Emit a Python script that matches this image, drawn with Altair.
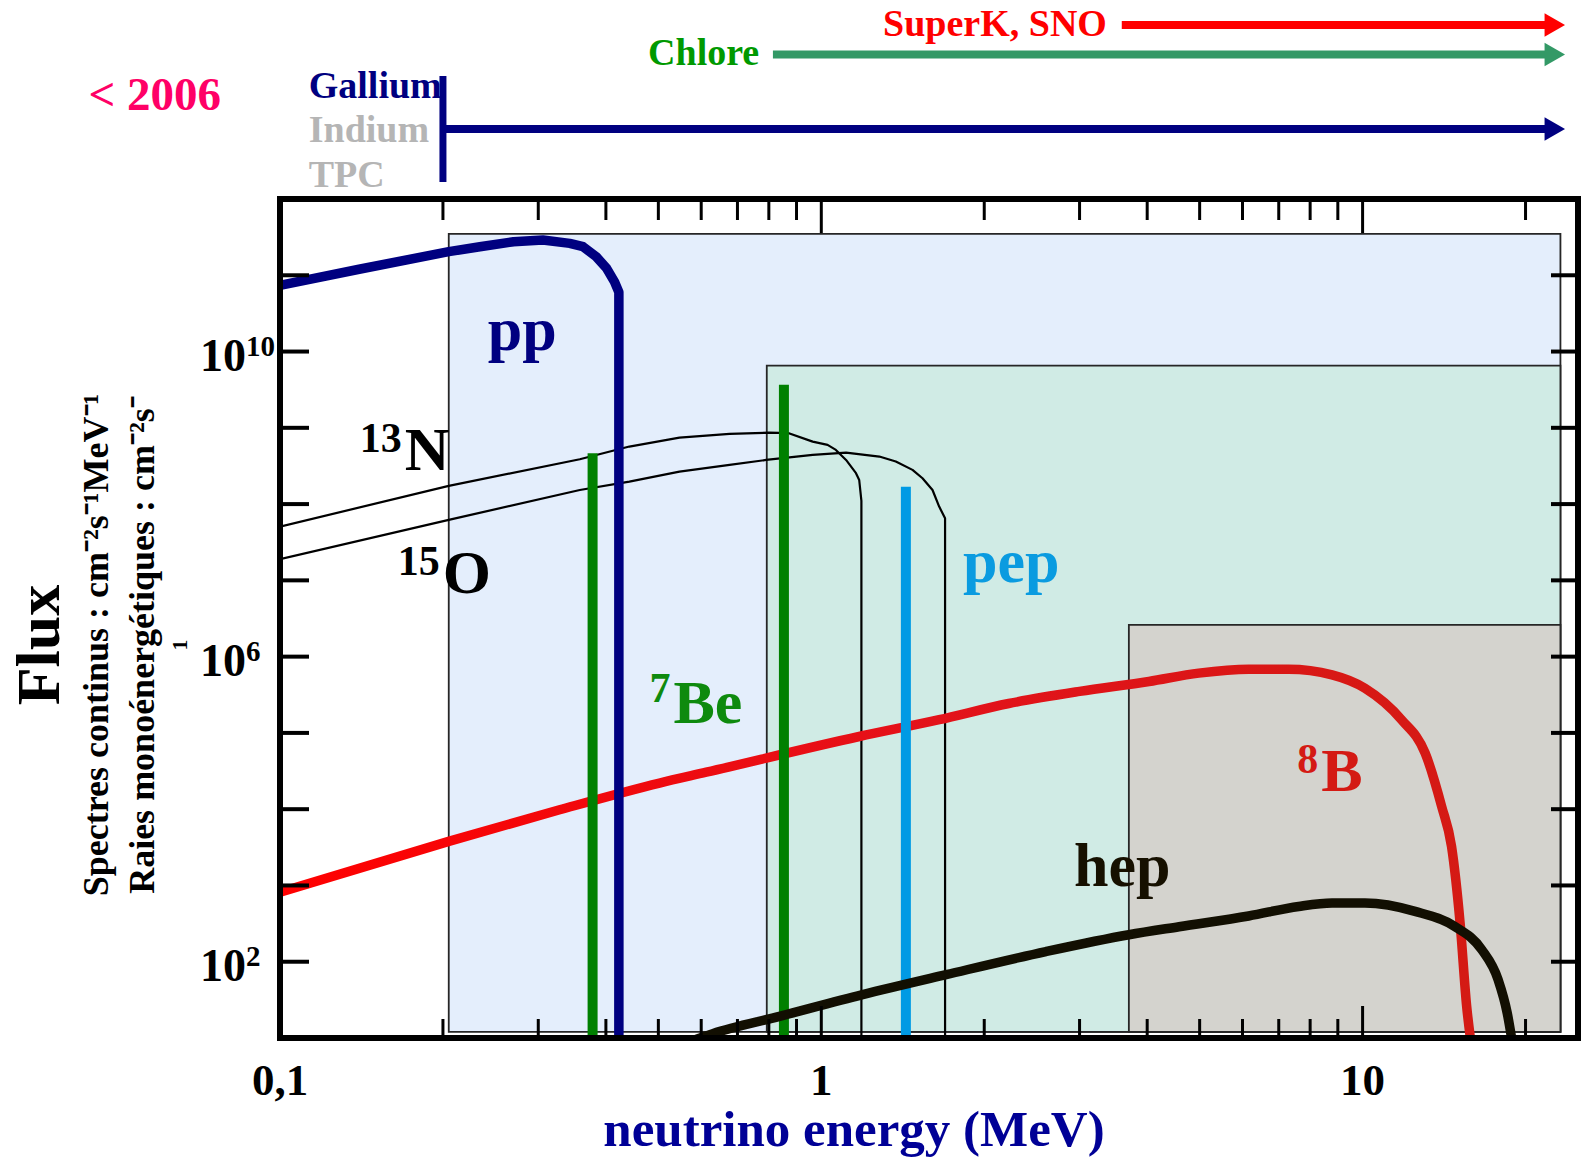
import altair as alt
import pandas as pd

# ---------------- data (energy in MeV, flux) ----------------
pp_E = [0.1, 0.14, 0.205, 0.234, 0.27, 0.306, 0.343, 0.363, 0.384, 0.401, 0.415, 0.4227, 0.4227]
pp_F = [7.4e10, 1.2e11, 2.04e11, 2.37e11, 2.75e11, 2.9e11, 2.62e11, 2.37e11, 1.75e11, 1.24e11, 8.2e10, 6.0e10, 10]

n13_E = [0.1, 0.205, 0.358, 0.442, 0.547, 0.677, 0.80, 0.871, 0.964, 1.027, 1.064, 1.111, 1.159, 1.175, 1.186, 1.186]
n13_F = [5.07e7, 1.73e8, 3.87e8, 5.68e8, 7.45e8, 8.32e8, 8.65e8, 8.51e8, 6.59e8, 5.97e8, 5.13e8, 3.79e8, 2.54e8, 2.07e8, 1.1e8, 10]

o15_E = [0.1, 0.205, 0.358, 0.442, 0.547, 0.677, 0.791, 0.964, 1.111, 1.28, 1.373, 1.474, 1.538, 1.605, 1.651, 1.693, 1.693]
o15_F = [1.90e7, 6.21e7, 1.53e8, 1.97e8, 2.67e8, 3.27e8, 3.79e8, 4.42e8, 4.73e8, 4.20e8, 3.61e8, 2.81e8, 2.18e8, 1.53e8, 9.27e7, 6.53e7, 10]

b8_E = [0.1, 0.205, 0.3285, 0.5025, 0.613, 1.175, 1.651, 2.22, 3.0, 4.03, 4.98, 6.16, 7.3, 8.78, 10.1, 11.8, 13.05, 14.0, 14.6, 15.14, 15.57, 15.85]
b8_F = [815, 3.78e3, 9.82e3, 2.20e4, 3.05e4, 8.97e4, 1.49e5, 2.43e5, 3.50e5, 4.72e5, 6.08e5, 6.85e5, 6.85e5, 5.78e5, 3.86e5, 1.49e5, 5.43e4, 1.08e4, 3.24e3, 321, 25.9, 8.9]

hep_E = [0.58, 0.63, 0.837, 1.192, 1.70, 2.60, 3.70, 4.58, 6.16, 7.62, 8.78, 10.1, 12.5, 14.8, 16.6, 17.8, 18.5, 18.95]
hep_F = [9.3, 11.4, 19.2, 37.0, 67.6, 136, 226, 288, 398, 531, 587, 587, 457, 290, 144, 58, 21.3, 7.9]

lines_name = ["Be384", "Be862", "pep"]
lines_E = [0.378, 0.853, 1.433]
lines_F = [4.65e8, 3.68e9, 1.69e8]

box_name = ["Gallium", "Chlore", "SuperK"]
box_E1 = [0.205, 0.793, 3.70]
box_E2 = [23.2, 23.2, 23.2]
box_Ftop = [3.48e11, 6.53e9, 2.61e6]
box_Fbot = [12, 12, 12]

label_text = ["pp", "N", "O", "Be", "pep", "B", "hep"]
label_E = [0.242, 0.170, 0.1998, 0.533, 1.828, 8.39, 2.93]
label_F = [1.05e10, 2.8e8, 6.86e6, 1.36e5, 9.5e6, 1.71e4, 990]

sup_text = ["13", "15", "7", "8"]
sup_E = [0.170, 0.1998, 0.533, 8.39]
sup_F = [4.83e8, 1.18e7, 2.58e5, 3.0e4]

x_minor = [0.2, 0.3, 0.4, 0.5, 0.6, 0.7, 0.8, 0.9, 2, 3, 4, 5, 6, 7, 8, 9, 20]
x_major = [1, 10]
x_labels = ["0,1", "1", "10"]
x_label_E = [0.1, 1, 10]
y_ticks = [1e2, 1e3, 1e4, 1e5, 1e6, 1e7, 1e8, 1e9, 1e10, 1e11]
y_label_F = [1e2, 1e6, 1e10]
y_label_exp = ["2", "6", "10"]

arrow_name = ["SuperK, SNO", "Chlore", "Gallium"]
arrow_start = [3.59, 0.814, 0.2]
arrow_end = 22.65

# ---------------- styles ----------------
W, H = 1298, 839
SERIF = "Liberation Serif"
NAVY = "#000080"
xs = alt.Scale(type="log", domain=[0.1, 25], nice=False)
ys = alt.Scale(type="log", domain=[10, 1e12], nice=False)


def X(f="E"):
    return alt.X(f + ":Q", scale=xs, axis=None)


def Y(f="F"):
    return alt.Y(f + ":Q", scale=ys, axis=None)


one = pd.DataFrame({"a": [0]})

# shaded regions
boxes = alt.Chart(pd.DataFrame({"n": box_name, "E1": box_E1, "E2": box_E2, "Ft": box_Ftop, "Fb": box_Fbot})).mark_rect(
    stroke="#262626", strokeWidth=1.8, clip=True
).encode(
    x=X("E1"), x2="E2:Q", y=Y("Ft"), y2="Fb:Q",
    fill=alt.Fill("n:N", scale=alt.Scale(domain=box_name, range=["#E4EEFC", "#D0EBE5", "#D4D3CE"]), legend=None),
)


def curve(E, F, color, width, interp="linear"):
    df = pd.DataFrame({"E": E, "F": F, "i": list(range(len(E)))})
    return alt.Chart(df).mark_line(clip=True, color=color, strokeWidth=width, strokeJoin="round",
                                   interpolate=interp).encode(
        x=X(), y=Y(), order="i:Q"
    )


c13 = curve(n13_E, n13_F, "#000000", 2.2)
c15 = curve(o15_E, o15_F, "#000000", 2.2)
b8_grad = alt.Gradient(
    gradient="linear",
    stops=[alt.GradientStop(color="#FF0000", offset=0), alt.GradientStop(color="#E3121A", offset=0.55),
           alt.GradientStop(color="#D41A14", offset=1)],
    x1=0, x2=1, y1=0, y2=0,
)
c8 = curve(b8_E, b8_F, b8_grad, 9.5, "monotone")
cpp = curve(pp_E, pp_F, NAVY, 9.5)
chep = curve(hep_E, hep_F, "#120F02", 9.5, "monotone")

bars = alt.Chart(pd.DataFrame({"n": lines_name, "E": lines_E, "F": lines_F})).mark_rule(strokeWidth=10, clip=True).encode(
    x=X(), y=Y(), y2=alt.value(H),
    color=alt.Color("n:N", scale=alt.Scale(domain=lines_name, range=["#008000", "#008000", "#009AE4"]), legend=None),
)

labels = alt.Chart(pd.DataFrame({"t": label_text, "E": label_E, "F": label_F})).mark_text(
    font=SERIF, fontWeight="bold", fontSize=62, align="left", baseline="alphabetic"
).encode(
    x=X(), y=Y(), text="t:N",
    color=alt.Color("t:N", scale=alt.Scale(domain=label_text,
                                           range=[NAVY, "#000000", "#000000", "#0E8A0E", "#0A9BE0", "#D41A14", "#161000"]),
                    legend=None),
)
sups = alt.Chart(pd.DataFrame({"t": sup_text, "E": sup_E, "F": sup_F})).mark_text(
    font=SERIF, fontWeight="bold", fontSize=42, align="right", baseline="alphabetic", dx=-3
).encode(
    x=X(), y=Y(), text="t:N",
    color=alt.Color("t:N", scale=alt.Scale(domain=sup_text, range=["#000000", "#000000", "#0E8A0E", "#D41A14"]),
                    legend=None),
)

# ticks (inward)
dmin = pd.DataFrame({"E": x_minor})
dmaj = pd.DataFrame({"E": x_major})
dy = pd.DataFrame({"F": y_ticks})
t_bmin = alt.Chart(dmin).mark_rule(color="black", strokeWidth=3).encode(x=X(), y=alt.value(H), y2=alt.value(H - 19))
t_bmaj = alt.Chart(dmaj).mark_rule(color="black", strokeWidth=3).encode(x=X(), y=alt.value(H), y2=alt.value(H - 32))
t_tmin = alt.Chart(dmin).mark_rule(color="black", strokeWidth=3).encode(x=X(), y=alt.value(0), y2=alt.value(21))
t_tmaj = alt.Chart(dmaj).mark_rule(color="black", strokeWidth=3).encode(x=X(), y=alt.value(0), y2=alt.value(34))
t_l = alt.Chart(dy).mark_rule(color="black", strokeWidth=4).encode(y=Y(), x=alt.value(0), x2=alt.value(29))
t_r = alt.Chart(dy).mark_rule(color="black", strokeWidth=4).encode(y=Y(), x=alt.value(W), x2=alt.value(W - 27))

frame = alt.Chart(one).mark_rect(filled=False, color="black", strokeWidth=6).encode(
    x=alt.value(0), x2=alt.value(W), y=alt.value(0), y2=alt.value(H)
)

# tick labels
xl = alt.Chart(pd.DataFrame({"E": x_label_E, "t": x_labels})).mark_text(
    font=SERIF, fontWeight="bold", fontSize=45, align="center", baseline="alphabetic", color="black"
).encode(x=X(), y=alt.value(896), text="t:N")
yl = alt.Chart(pd.DataFrame({"F": y_label_F, "t": ["10"] * 3})).mark_text(
    font=SERIF, fontWeight="bold", fontSize=46, align="right", baseline="alphabetic", color="black", dy=19
).encode(y=Y(), x=alt.value(-34), text="t:N")
yexp = alt.Chart(pd.DataFrame({"F": y_label_F, "t": y_label_exp})).mark_text(
    font=SERIF, fontWeight="bold", fontSize=29, align="left", baseline="alphabetic", color="black", dy=4
).encode(y=Y(), x=alt.value(-34), text="t:N")


def ptext(txt, xpx, ypx, size, color, angle=0, align="center", weight="bold"):
    kw = dict(font=SERIF, fontWeight=weight, fontSize=size, align=align, baseline="alphabetic", color=color, text=txt)
    if angle:
        kw["angle"] = angle
    return alt.Chart(one).mark_text(**kw).encode(x=alt.value(xpx), y=alt.value(ypx))


xtitle = ptext("neutrino energy (MeV)", 574, 947, 51, "#000096")
flux = ptext("Flux", -221, 446, 62, "black", angle=270)
sub1 = ptext("Spectres continus : cm\u207b\u00b2s\u207b\u00b9MeV\u207b\u00b9", -172, 446, 36, "black", angle=270)
sub2 = ptext("Raies mono\u00e9nerg\u00e9tiques : cm\u207b\u00b2s\u207b", -126, 446, 36, "black", angle=270)
sub3 = ptext("1", -93, 446, 22, "black", angle=270)


# annotations above the plot
def dtext(txt, E, ypx, size, color, align):
    return alt.Chart(pd.DataFrame({"E": [E]})).mark_text(
        font=SERIF, fontWeight="bold", fontSize=size, align=align, baseline="alphabetic", color=color, text=txt
    ).encode(x=X(), y=alt.value(ypx))


t2006 = dtext("< 2006", 0.0587, -89, 47, "#FF0066", "center")
tgal = dtext("Gallium", 0.113, -101, 38, NAVY, "left")
tind = dtext("Indium", 0.113, -57, 38, "#B5B5B5", "left")
ttpc = dtext("TPC", 0.113, -12, 38, "#B5B5B5", "left")
tchl = dtext("Chlore", 0.768, -134, 38, "#009900", "right")
tsk = dtext("SuperK, SNO", 3.37, -163, 38, "#FF0000", "right")

arrow_y = [-174, -144.5, -70]
arrow_col = ["#FF0000", "#339966", NAVY]
arrows = []
for i in range(3):
    df = pd.DataFrame({"E": [arrow_start[i]], "E2": [arrow_end]})
    arrows.append(alt.Chart(df).mark_rule(color=arrow_col[i], strokeWidth=8).encode(
        x=X(), x2="E2:Q", y=alt.value(arrow_y[i])))
    arrows.append(alt.Chart(df).mark_point(shape="triangle-right", filled=True, size=560, opacity=1,
                                           color=arrow_col[i]).encode(x=X("E2"), y=alt.value(arrow_y[i])))
gal_bar = alt.Chart(pd.DataFrame({"E": [arrow_start[2]]})).mark_rule(color=NAVY, strokeWidth=7).encode(
    x=X(), y=alt.value(-123), y2=alt.value(-17))

chart = alt.layer(
    boxes, c13, c15, c8, bars, cpp, chep, labels, sups,
    t_bmin, t_bmaj, t_tmin, t_tmaj, t_l, t_r, frame,
    xl, yl, yexp, xtitle, flux, sub1, sub2, sub3,
    t2006, tgal, tind, ttpc, tchl, tsk, gal_bar, *arrows,
).resolve_scale(
    color="independent", fill="independent"
).properties(
    width=W, height=H,
    autosize=alt.AutoSizeParams(type="none"),
    padding={"left": 280, "top": 199, "right": 5, "bottom": 119},
).configure_view(strokeWidth=0).configure(background="white")

chart.save("out.html", embed_options={"renderer": "svg", "actions": False})
